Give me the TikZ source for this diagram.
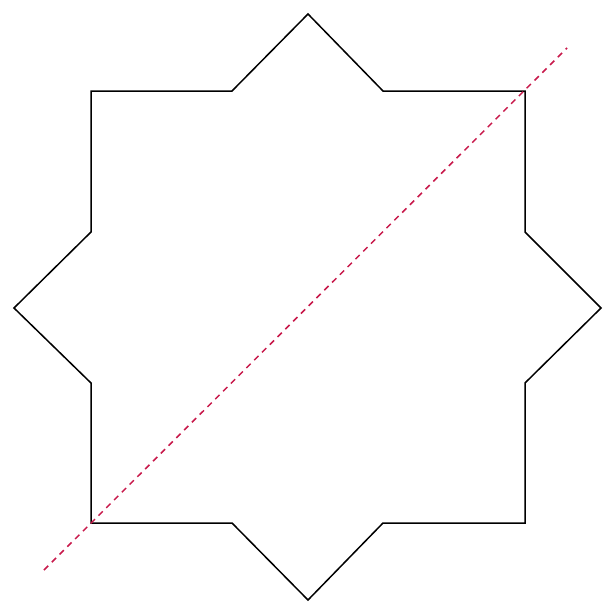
\documentclass[tikz,border=0pt]{standalone}
\definecolor{dashred}{RGB}{200,25,75}
\begin{document}
\begin{tikzpicture}[x=1pt,y=-1pt,
  starline/.style={draw=black,line width=1.5pt,line join=miter},
  diag/.style={draw=dashred,line width=1.5pt,dash pattern=on 6pt off 5pt}]
\useasboundingbox (0,0) rectangle (616,616);
\coordinate (p1) at (308,14);
\coordinate (p2) at (383,91);
\coordinate (p3) at (525,91);
\coordinate (p4) at (525,232);
\coordinate (p5) at (601,308);
\coordinate (p6) at (525,383);
\coordinate (p7) at (525,523);
\coordinate (p8) at (383,523);
\coordinate (p9) at (308,600);
\coordinate (p10) at (232,523);
\coordinate (p11) at (91,523);
\coordinate (p12) at (91,383);
\coordinate (p13) at (14,308);
\coordinate (p14) at (91,232);
\coordinate (p15) at (91,91);
\coordinate (p16) at (232,91);
\draw[starline] (p1) -- (p2) -- (p3) -- (p4) -- (p5) -- (p6) -- (p7) -- (p8) -- (p9) -- (p10) -- (p11) -- (p12) -- (p13) -- (p14) -- (p15) -- (p16) -- cycle;
\coordinate (d1) at (44,570);
\coordinate (d2) at (567,48);
\draw[diag] (d1) -- (d2);
\end{tikzpicture}
\end{document}
